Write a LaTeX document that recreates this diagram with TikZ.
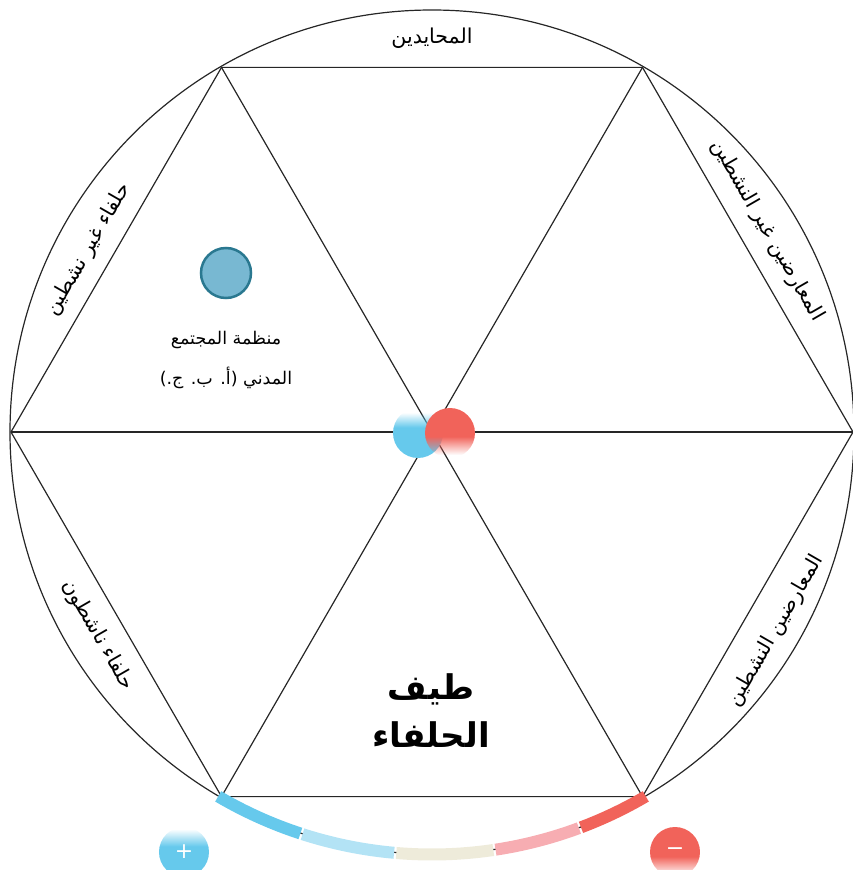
\documentclass[tikz,border=0pt]{standalone}
\usepackage{fontspec}
\TeXXeTstate=1
\newfontfamily\arabicfont[Script=Arabic]{DejaVu Sans}
\newfontfamily\symfont{DejaVu Sans}
\definecolor{lineC}{HTML}{262626}
\definecolor{bandA}{HTML}{66C9EC}
\definecolor{bandB}{HTML}{B3E3F5}
\definecolor{bandC}{HTML}{EEEBDA}
\definecolor{bandD}{HTML}{F7ADB2}
\definecolor{bandE}{HTML}{F1635A}
\definecolor{csoFill}{HTML}{78B8D2}
\definecolor{csoDraw}{HTML}{2A7890}
% #1 x, #2 y, #3 radius, #4 colour, #5 fraction from top with opacity 0, #6 fraction with opacity 1
\newcommand{\FadeDisc}[6]{%
  \begin{scope}
    \clip (#1,#2) circle (#3);
    \foreach \i in {0,...,49}{%
      \pgfmathsetmacro\ff{(\i+0.5)/50}%
      \pgfmathsetmacro\oo{min(1,max(0,(\ff-#5)/(#6-#5)))}%
      \fill[#4, opacity=\oo] ({#1-#3-1},{#2+#3-\i*2*#3/50}) rectangle ({#1+#3+1},{#2+#3-(\i+1)*2*#3/50});
    }
  \end{scope}}
\begin{document}
\begin{tikzpicture}[x=1pt,y=1pt,
  thin line/.style={draw=lineC, line width=1.2pt},
  bandseg/.style={line width=12pt, line cap=butt},
  lbl/.style={font=\arabicfont\fontsize{20.5}{24}\selectfont, inner sep=0pt},
  sign/.style={text=white, font=\symfont\fontsize{22}{22}\selectfont, inner sep=0pt}]
\useasboundingbox (-432,-438) rectangle (420,432);
\coordinate (O) at (0,0);
\foreach \k in {0,...,5}{\coordinate (v\k) at (\k*60:421);}
% outer circle and hexagon
\draw[thin line] (O) circle (422);
\draw[thin line] (v0) -- (v1) -- (v2) -- (v3) -- (v4) -- (v5) -- cycle;
\draw[thin line] (v0) -- (v3);
\draw[thin line] (v1) -- (v4);
\draw[thin line] (v2) -- (v5);
% coloured band
\draw[bandseg, bandA] (239.6:422.5) arc[start angle=239.6, end angle=251.85, radius=422.5];
\draw[bandseg, bandB] (252.15:422.5) arc[start angle=252.15, end angle=264.85, radius=422.5];
\draw[bandseg, bandC] (265.15:422.5) arc[start angle=265.15, end angle=278.35, radius=422.5];
\draw[bandseg, bandD] (278.65:422.5) arc[start angle=278.65, end angle=290.35, radius=422.5];
\draw[bandseg, bandE] (290.65:422.5) arc[start angle=290.65, end angle=300.4, radius=422.5];
% centre discs
\FadeDisc{-14}{-1}{25}{bandA}{0.10}{0.40}
\FadeDisc{18}{-1}{25}{bandE}{0.95}{0.58}
% plus and minus discs
\FadeDisc{-248}{-420}{25}{bandA}{0.05}{0.40}
\FadeDisc{243}{-420}{25}{bandE}{0.98}{0.60}
\node[sign] (plus) at (-248,-420) {+};
\node[sign] (minus) at (243,-420) {−};
% CSO disc and text
\node[circle, fill=csoFill, draw=csoDraw, line width=2.5pt, minimum size=50pt, inner sep=0pt] (cso) at (-206,159) {};
\node[font=\arabicfont\fontsize{17.5}{40}\selectfont, align=center, inner sep=0pt] (csotext) at (-206,72) {\beginR منظمة المجتمع\endR\\\beginR المدني (أ. ب. ج.)\endR};
% title
\node[font=\arabicfont\bfseries\fontsize{34}{48}\selectfont, align=center, inner sep=0pt] (title) at (-1,-279) {\beginR طيف\endR\\\beginR الحلفاء\endR};
% sector labels
\node[lbl] (lN) at (90:394) {\beginR المحايدين\endR};
\node[lbl, rotate=-60] (lNE) at (31:391) {\beginR المعارضين غير النشطين\endR};
\node[lbl, rotate=60] (lNW) at (152:389) {\beginR حلفاء غير نشطين\endR};
\node[lbl, rotate=-60] (lSW) at (211.3:391) {\beginR حلفاء ناشطون\endR};
\node[lbl, rotate=60] (lSE) at (330:397) {\beginR المعارضين النشطين\endR};
\end{tikzpicture}
\end{document}
